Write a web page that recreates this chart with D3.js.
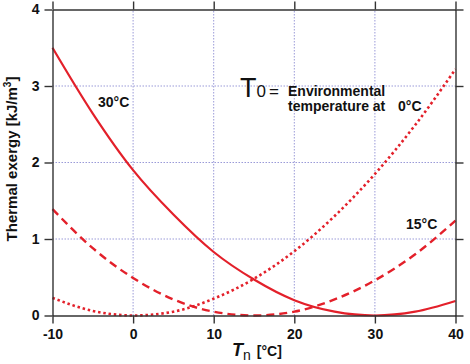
<!DOCTYPE html>
<html>
<head>
<meta charset="utf-8">
<script src="https://cdn.jsdelivr.net/npm/d3@7"></script>
<style>
  body { margin: 0; background: #fff; }
  text { font-family: "Liberation Sans", Arial, sans-serif; }
</style>
</head>
<body>
<div id="chart"></div>
<script>
// values
var tn = [-10, -5, 0, 5, 10, 15, 20, 25, 30, 35, 40];
var ex30 = [3.50, 2.64, 1.90, 1.32, 0.83, 0.47, 0.20, 0.05, 0.00, 0.05, 0.19];
var ex15 = [1.39, 0.88, 0.49, 0.21, 0.05, 0.00, 0.05, 0.21, 0.46, 0.80, 1.24];
var ex0 = [0.23, 0.06, 0.00, 0.05, 0.22, 0.48, 0.84, 1.30, 1.85, 2.49, 3.22];
var xTicks = [-10, 0, 10, 20, 30, 40];
var yTicks = [0, 1, 2, 3, 4];
var xGrid = [0, 10, 20, 30];
var yGrid = [1, 2, 3];

var width = 470,
    height = 364,
    margin = {top: 9.5, right: 14.5, bottom: 48.5, left: 52.5},
    red = "#e3202a";

var svg = d3.select("#chart")
    .append("svg")
    .attr("width", width)
    .attr("height", height);

var x = d3.scaleLinear()
    .domain([-10, 40])
    .range([margin.left, width - margin.right]);

var y = d3.scaleLinear()
    .domain([0, 4])
    .range([height - margin.bottom, margin.top]);

// plain hyphen, no decimals
var plain = function (d) { return String(d); };

// grid
svg.append("g")
    .selectAll("line")
    .data(xGrid)
    .enter().append("line")
    .attr("x1", function (d) { return x(d); })
    .attr("x2", function (d) { return x(d); })
    .attr("y1", y(0))
    .attr("y2", y(4))
    .attr("stroke", "#9a9ad8")
    .attr("stroke-width", 1)
    .attr("stroke-dasharray", "1.5,1.5");

svg.append("g")
    .selectAll("line")
    .data(yGrid)
    .enter().append("line")
    .attr("x1", x(-10))
    .attr("x2", x(40))
    .attr("y1", function (d) { return y(d); })
    .attr("y2", function (d) { return y(d); })
    .attr("stroke", "#9a9ad8")
    .attr("stroke-width", 1)
    .attr("stroke-dasharray", "1.5,1.5");

// curves
var line = d3.line()
    .x(function (d) { return x(d[0]); })
    .y(function (d) { return y(d[1]); })
    .curve(d3.curveMonotoneX);

var series = [
    {vals: ex30, dash: null, w: 2.2},
    {vals: ex15, dash: "8,5", w: 2.4},
    {vals: ex0, dash: "2.5,2.8", w: 2.6}
];

series.forEach(function (s) {
    svg.append("path")
        .datum(tn.map(function (t, i) { return [t, s.vals[i]]; }))
        .attr("d", line)
        .attr("fill", "none")
        .attr("stroke", red)
        .attr("stroke-width", s.w)
        .attr("stroke-dasharray", s.dash);
});

// axes on all four sides
function styleAxis(g) {
    g.selectAll(".domain").attr("stroke", "#333").attr("stroke-width", 1.4);
    g.selectAll(".tick line").attr("stroke", "#333").attr("stroke-width", 1.4);
    g.selectAll("text")
        .style("font-family", "'Liberation Sans', Arial, sans-serif")
        .style("font-size", "14px")
        .style("font-weight", "bold")
        .attr("fill", "#111");
}

svg.append("g")
    .attr("transform", "translate(0," + y(0) + ")")
    .call(d3.axisBottom(x).tickValues(xTicks).tickSize(8).tickSizeOuter(0).tickPadding(6).tickFormat(plain))
    .call(styleAxis);

svg.append("g")
    .attr("transform", "translate(0," + y(4) + ")")
    .call(d3.axisTop(x).tickValues(xTicks).tickSize(8).tickSizeOuter(0).tickFormat(""))
    .call(styleAxis);

svg.append("g")
    .attr("transform", "translate(" + x(-10) + ",0)")
    .call(d3.axisLeft(y).tickValues(yTicks).tickSize(8).tickSizeOuter(0).tickPadding(5).tickFormat(plain))
    .call(styleAxis);

svg.append("g")
    .attr("transform", "translate(" + x(40) + ",0)")
    .call(d3.axisRight(y).tickValues(yTicks).tickSize(8).tickSizeOuter(0).tickFormat(""))
    .call(styleAxis);

// y label
var yl = svg.append("text")
    .attr("transform", "translate(17,159) rotate(-90)")
    .attr("text-anchor", "middle")
    .style("font-size", "15px")
    .style("font-weight", "bold")
    .attr("fill", "#111");
yl.append("tspan").text("Thermal exergy [kJ/m");
yl.append("tspan").attr("dy", -6).style("font-size", "10px").text("3");
yl.append("tspan").attr("dy", 6).text("]");

// x label
var xl = svg.append("text")
    .attr("x", 232)
    .attr("y", 356)
    .attr("fill", "#111");
xl.append("tspan")
    .style("font-size", "18px")
    .style("font-weight", "bold")
    .style("font-style", "italic")
    .text("T");
xl.append("tspan")
    .attr("dy", 4)
    .style("font-size", "14px")
    .text("n");
xl.append("tspan")
    .attr("dy", -4)
    .attr("dx", 6)
    .style("font-size", "14px")
    .style("font-weight", "bold")
    .text("[°C]");

// curve labels
svg.append("text")
    .attr("x", 98).attr("y", 107)
    .style("font-size", "14px").style("font-weight", "bold")
    .attr("fill", "#111")
    .text("30°C");

svg.append("text")
    .attr("x", 406).attr("y", 229)
    .style("font-size", "14px").style("font-weight", "bold")
    .attr("fill", "#111")
    .text("15°C");

// T0 note
var t0 = svg.append("text")
    .attr("x", 240).attr("y", 97)
    .attr("fill", "#111");
t0.append("tspan").style("font-size", "27px").text("T");
t0.append("tspan").style("font-size", "17px").text("0");
t0.append("tspan").attr("dx", 3).style("font-size", "17px").text("=");

svg.append("text")
    .attr("x", 288).attr("y", 96)
    .style("font-size", "14px").style("font-weight", "bold")
    .attr("fill", "#111")
    .text("Environmental");

svg.append("text")
    .attr("x", 288).attr("y", 111)
    .style("font-size", "14px").style("font-weight", "bold")
    .attr("fill", "#111")
    .text("temperature at");

svg.append("text")
    .attr("x", 398).attr("y", 111)
    .style("font-size", "14px").style("font-weight", "bold")
    .attr("fill", "#111")
    .text("0°C");
</script>
</body>
</html>
